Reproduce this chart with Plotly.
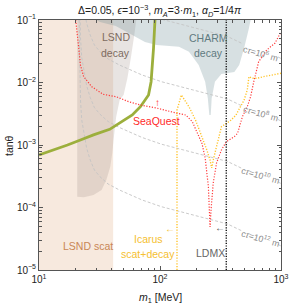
import math
import plotly.graph_objects as go

# ---------------- data ----------------
# LSND scattering exclusion
lsnd_scat_m = [10, 41, 41, 10]
lsnd_scat_tan = [1e-5, 1e-5, 1e-1, 1e-1]

# LSND decay exclusion
lsnd_decay_m = [20.7, 20.7, 23.4, 28.2, 32.9, 36.0, 38.8, 40.3, 41.3, 43.4, 46.4, 50.0, 53.8, 57.4, 61.3, 63.6]
lsnd_decay_tan = [0.1, 1.49e-4, 1.46e-4, 1.58e-4, 1.9e-4, 2.75e-4, 4.5e-4, 7.36e-4, 1.2e-3, 2.8e-3,
                  5.25e-3, 6.31e-3, 0.0118, 0.0247, 0.0575, 0.1]

# CHARM decay exclusion
charm_m = [29.8, 31.9, 43.1, 59.0, 75.1, 93.8, 143.5, 173.5, 208.8, 236.2, 248.4, 255.7,
           262.6, 267.4, 284.3, 321.9, 411.5, 451.5, 495.3, 543.2, 560.7]
charm_tan = [0.1, 0.0929, 0.0802, 0.0575, 0.0445, 0.0398, 0.0374, 0.0311, 0.0191, 0.0103, 0.00559, 0.00302,
             0.00302, 0.00559, 0.0103, 0.0137, 0.0147, 0.0191, 0.0352, 0.0736, 0.1]

# SeaQuest
seaquest_m = [20.1, 20.5, 21.3, 22.0, 23.4, 27.3, 33.9, 43.3, 55.5, 68.9, 93.8, 135.8, 163.3, 184.9, 202.6,
              222.3, 236.2, 243.8, 251.1, 255.7, 259.2, 264.1, 275.5, 293.2, 321.9, 353.2, 411.5, 437.5,
              479.8, 526.3, 560.7, 595.7, 653.6, 762.1, 889.6, 1000]
seaquest_tan = [0.1, 0.0745, 0.0356, 0.0191, 0.0124, 0.00857, 0.00648, 0.00593, 0.0049, 0.00437, 0.0039,
                0.00325, 0.00302, 0.00236, 0.00163, 0.00106, 0.00062, 0.000356, 0.000215, 9.1e-5, 4.9e-5,
                9.1e-5, 0.000247, 0.000515, 0.000832, 0.00113, 0.00136, 0.00154, 0.00284, 0.0041, 0.00593,
                0.0103, 0.0215, 0.0331, 0.0424, 0.0643]

# Icarus scattering + decay
icarus_m = [138.2, 138.2, 150.2, 163.3, 173.5, 196.5, 222.3, 243.8, 259.2, 267.4, 275.5, 293.2, 311.9,
            321.9, 353.2, 387.3, 424.6, 465.8, 495.3, 526.3, 543.2, 577.2, 633.4, 716.6, 862.6, 1000]
icarus_tan = [1e-5, 0.00363, 0.00631, 0.00488, 0.0041, 0.00251, 0.00136, 0.000832, 0.000575, 0.000429,
              0.000575, 0.00094, 0.00154, 0.00196, 0.00222, 0.00251, 0.00302, 0.0041, 0.00525, 0.00759,
              0.0124, 0.01167, 0.01167, 0.0124, 0.0132, 0.01403]

# thick green curve
green_m = [10, 13.4, 17.2, 22.0, 28.2, 38.4, 46.1, 59.0, 68.9, 80.4, 84.4, 86.6, 88.4, 90.9]
green_tan = [0.000692, 0.000832, 0.001, 0.0012, 0.00145, 0.00178, 0.00222, 0.00302, 0.0041, 0.00631,
             0.0103, 0.0191, 0.0352, 0.1]

# LDMX reach
ldmx_m = [353, 353]
ldmx_tan = [1e-5, 1e-1]

# c*tau contours
ct_m = [21.47, 21.75, 22.03, 22.56, 23.4, 24.75, 26.5, 28.7, 31.9, 37.2, 46.1, 59.0, 71.0, 102.8,
        163.3, 236.2, 361.6, 477.1, None, 946, 1000]
ct12_tan = [0.1, 0.0229, 0.00525, 0.00251, 0.00156, 0.000895, 0.000575, 0.000398, 0.000311, 0.000238,
            0.000191, 0.000153, 0.000132, 0.000103, 8.17e-5, 6.79e-5, 5.45e-5, 4.21e-5, None, 2.56e-5, 2.42e-5]
ct10_tan = [1.0, 0.229, 0.0525, 0.0251, 0.0156, 0.00895, 0.00575, 0.00398, 0.00311, 0.00238,
            0.00191, 0.00153, 0.00132, 0.00103, 8.17e-4, 6.79e-4, 5.45e-4, 4.21e-4, None, 2.56e-4, 2.42e-4]
ct8_tan = [10, 2.29, 0.525, 0.251, 0.156, 0.0895, 0.0575, 0.0398, 0.0311, 0.0238,
           0.0191, 0.0153, 0.0132, 0.0103, 8.17e-3, 6.79e-3, 5.45e-3, 4.21e-3, None, 2.56e-3, 2.42e-3]
ct6_tan = [100, 22.9, 5.25, 2.51, 1.56, 0.895, 0.575, 0.398, 0.311, 0.238,
           0.191, 0.153, 0.132, 0.103, 0.0817, 0.0679, 0.0545, 0.0421, None, 0.0256, 0.0242]
ct_labels = ["6", "8", "10", "12"]
ct_label_tan = [0.03, 3.2e-3, 3.3e-4, 3.25e-5]
ct_label_m = 678

x_tickvals = [10, 100, 1000]
x_ticktext = ["10<sup>1</sup>", "10<sup>2</sup>", "10<sup>3</sup>"]
y_tickvals = [1e-5, 1e-4, 1e-3, 1e-2, 1e-1]
y_ticktext = ["10<sup>−5</sup>", "10<sup>−4</sup>", "10<sup>−3</sup>", "10<sup>−2</sup>", "10<sup>−1</sup>"]

# ---------------- figure ----------------
FONT = "Liberation Sans, Arial, sans-serif"
fig = go.Figure()

fig.add_trace(go.Scatter(x=lsnd_scat_m, y=lsnd_scat_tan, fill="toself", mode="none",
                         fillcolor="rgb(247,233,222)", hoverinfo="skip"))
fig.add_trace(go.Scatter(x=lsnd_decay_m, y=lsnd_decay_tan, fill="toself", mode="none",
                         fillcolor="rgba(163,147,139,0.25)", hoverinfo="skip"))
fig.add_trace(go.Scatter(x=charm_m, y=charm_tan, fill="toself", mode="none",
                         fillcolor="rgba(110,145,150,0.28)", hoverinfo="skip"))

for tans in (ct6_tan, ct8_tan, ct10_tan, ct12_tan):
    fig.add_trace(go.Scatter(x=ct_m, y=tans, mode="lines", connectgaps=False,
                             line=dict(color="#c4c4c4", width=0.9, dash="3px,2px"), hoverinfo="skip"))

fig.add_trace(go.Scatter(x=green_m, y=green_tan, mode="lines",
                         line=dict(color="#9caf3c", width=2.8), hoverinfo="skip"))
fig.add_trace(go.Scatter(x=seaquest_m, y=seaquest_tan, mode="lines",
                         line=dict(color="#ff3b3b", width=1.2, dash="1.2px,1.6px"), hoverinfo="skip"))
fig.add_trace(go.Scatter(x=icarus_m, y=icarus_tan, mode="lines",
                         line=dict(color="#ffc42c", width=1.4, dash="1.2px,1.6px"), hoverinfo="skip"))
fig.add_trace(go.Scatter(x=ldmx_m, y=ldmx_tan, mode="lines",
                         line=dict(color="#111111", width=1.4, dash="1.2px,1.4px"), hoverinfo="skip"))


def lab(text, m, t, color, size=10.5, angle=0):
    fig.add_annotation(x=math.log10(m), y=math.log10(t), xref="x", yref="y", text=text,
                       showarrow=False, textangle=angle,
                       font=dict(family=FONT, size=size, color=color),
                       xanchor="center", yanchor="middle")


lab("LSND", 43.1, 0.0525, "#7d6b5f")
lab("decay", 43.1, 0.0302, "#7d6b5f")
lab("CHARM", 251, 0.0515, "#5f7a80")
lab("decay", 251, 0.0297, "#5f7a80")
lab("SeaQuest", 92.9, 0.00242, "#ff2a2a")
lab("↑", 94.5, 0.0048, "#ff2a2a", size=10)
lab("LSND scat", 25.2, 2.42e-5, "#c98655")
lab("Icarus", 80.8, 3.13e-5, "#f5c030")
lab("scat+decay", 80.1, 1.8e-5, "#f5c030")
lab("←", 120.3, 4.53e-5, "#f5c030", size=10)
lab("←", 314.8, 4.7e-5, "#555555", size=10)
lab("LDMX", 261.6, 1.87e-5, "#666666")
for e, t in zip(ct_labels, ct_label_tan):
    lab("c<i>τ</i>=10<sup>%s</sup> m" % e, ct_label_m, t, "#8a8a8a", size=8.8, angle=16)

# title and axis titles
fig.add_annotation(x=0.5, y=1.036, xref="paper", yref="paper", showarrow=False,
                   text="Δ=0.05, <i>ϵ</i>=10<sup>−3</sup>, <i>m<sub>A</sub></i>=3·<i>m</i><sub>1</sub>, "
                        "<i>α<sub>D</sub></i>=1/4<i>π</i>",
                   font=dict(family=FONT, size=10.5, color="#222"), xanchor="center", yanchor="middle")
fig.add_annotation(x=0.5, y=-0.112, xref="paper", yref="paper", showarrow=False,
                   text="<i>m</i><sub>1</sub> [MeV]",
                   font=dict(family=FONT, size=10.5, color="#222"), xanchor="center", yanchor="middle")
fig.add_annotation(x=-0.124, y=0.5, xref="paper", yref="paper", showarrow=False, textangle=-90,
                   text="tanθ", font=dict(family=FONT, size=10.5, color="#222"),
                   xanchor="center", yanchor="middle")

x_minor = [v * d for d in (10, 100) for v in range(2, 10)]
y_minor = [v * d for d in (1e-5, 1e-4, 1e-3, 1e-2) for v in range(2, 10)]

axis_common = dict(showline=True, linecolor="#555", linewidth=1, mirror="ticks", ticks="inside",
                   ticklen=4, tickcolor="#555", tickwidth=0.8, showgrid=False, zeroline=False,
                   tickfont=dict(family=FONT, size=10, color="#222"), tickmode="array")
fig.update_xaxes(type="log", range=[1, 3], tickvals=x_tickvals, ticktext=x_ticktext,
                 minor=dict(tickmode="array", tickvals=x_minor, ticks="inside", ticklen=2.5,
                            tickcolor="#555", tickwidth=0.7, showgrid=False), **axis_common)
fig.update_yaxes(type="log", range=[-5, -1], tickvals=y_tickvals, ticktext=y_ticktext,
                 minor=dict(tickmode="array", tickvals=y_minor, ticks="inside", ticklen=2.5,
                            tickcolor="#555", tickwidth=0.7, showgrid=False), **axis_common)

fig.update_layout(width=297, height=305, margin=dict(l=39, r=8, t=20, b=35),
                  paper_bgcolor="white", plot_bgcolor="white", showlegend=False,
                  font=dict(family=FONT))

fig.write_html("out.html", config={"displayModeBar": False},
               post_script="document.body.style.margin='0';")
